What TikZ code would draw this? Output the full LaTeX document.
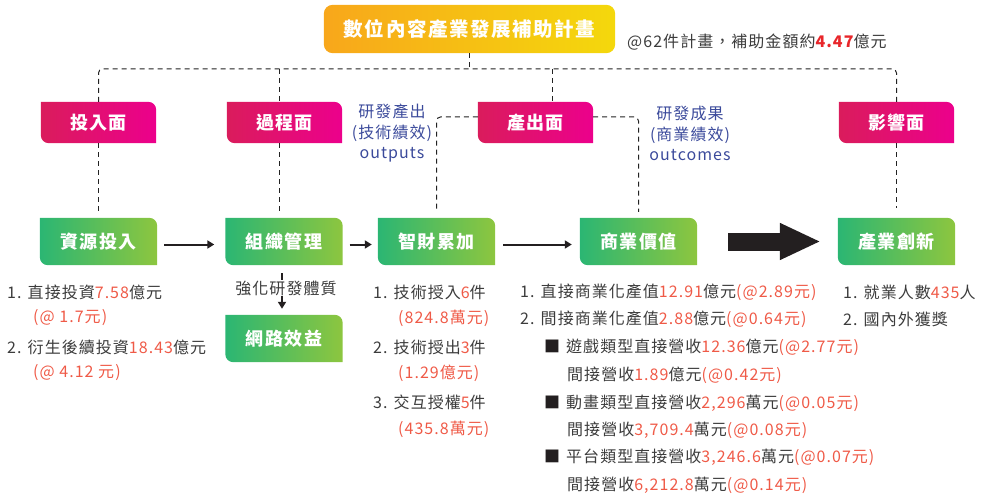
\documentclass[tikz,border=0pt]{standalone}
\usepackage{fontspec}
\setmainfont{Noto Sans CJK TC}
\newfontfamily\bodyfont{Noto Sans CJK TC}[LetterSpace=6.5]
\newfontfamily\headfont{Noto Sans CJK TC}[LetterSpace=8]
\usetikzlibrary{arrows.meta,backgrounds,calc}
\definecolor{txtc}{HTML}{3C3C3C}
\definecolor{redc}{HTML}{EF5A47}
\definecolor{redb}{HTML}{E8262A}
\definecolor{bluec}{HTML}{3B4A9B}
\definecolor{pinkL}{HTML}{DA1C5C}
\definecolor{pinkR}{HTML}{EC008C}
\definecolor{greenL}{HTML}{2BB673}
\definecolor{greenR}{HTML}{8DC63F}
\definecolor{orL}{HTML}{F8A71B}
\definecolor{orR}{HTML}{F4D80C}
\definecolor{linec}{HTML}{222222}
\definecolor{arrc}{HTML}{231F20}
\newcommand\rd[1]{\textcolor{redc}{#1}}
\newcommand\cornerbox[3]{\shade[left color=#2,right color=#3] (#1.north west) -- ($(#1.north east)+(-8pt,0)$) arc[start angle=90,end angle=0,radius=8pt] -- (#1.south east) -- ($(#1.south west)+(8pt,0)$) arc[start angle=270,end angle=180,radius=8pt] -- cycle;}
\tikzset{
  pbox/.style={minimum width=115pt, minimum height=41pt, inner sep=0pt, text=white, font=\headfont\bfseries\fontsize{18}{20}\selectfont},
  gbox/.style={minimum width=117pt, minimum height=47pt, inner sep=0pt, text=white, font=\headfont\bfseries\fontsize{18}{20}\selectfont},
  txt/.style={anchor=west, inner sep=0pt, text=txtc, font=\bodyfont\fontsize{16}{18}\selectfont},
  bl/.style={inner sep=0pt, align=center, text=bluec, font=\bodyfont\fontsize{16}{20.5}\selectfont},
  dl/.style={draw=linec, line width=1pt, dash pattern=on 5pt off 4pt},
  arr/.style={draw=arrc, line width=2pt, -{Triangle[length=7pt,width=8pt]}}
}
\begin{document}
\begin{tikzpicture}[x=1pt,y=1pt]
\useasboundingbox (0,0) rectangle (987,-497);
% title
\node[minimum width=291pt, minimum height=48pt, inner sep=0pt, text=white, font=\headfont\bfseries\fontsize{19.5}{22}\selectfont] (title) at (469.5,-29) {數位內容產業發展補助計畫};
\node[txt] (total) at (627,-42) {@62件計畫，補助金額約\textcolor{redb}{\bfseries 4.47}億元};
% pink boxes
\node[pbox] (tin) at (98.5,-122.5) {投入面};
\node[pbox] (tproc) at (284.5,-122.5) {過程面};
\node[pbox] (tout) at (535.5,-122.5) {產出面};
\node[pbox] (timp) at (896.5,-122.5) {影響面};
% green boxes
\node[gbox] (gres) at (98.5,-241.5) {資源投入};
\node[gbox] (gorg) at (284,-241.5) {組織管理};
\node[gbox] (gip) at (436.5,-241.5) {智財累加};
\node[gbox] (gbiz) at (638.5,-241.5) {商業價值};
\node[gbox] (ginn) at (896.5,-241.5) {產業創新};
\node[gbox] (gnet) at (284,-338.5) {網路效益};
\begin{pgfonlayer}{background}
\shade[left color=orL,right color=orR, rounded corners=9pt] (title.north west) rectangle (title.south east);
\cornerbox{tin}{pinkL}{pinkR}
\cornerbox{tproc}{pinkL}{pinkR}
\cornerbox{tout}{pinkL}{pinkR}
\cornerbox{timp}{pinkL}{pinkR}
\cornerbox{gres}{greenL}{greenR}
\cornerbox{gorg}{greenL}{greenR}
\cornerbox{gip}{greenL}{greenR}
\cornerbox{gbiz}{greenL}{greenR}
\cornerbox{ginn}{greenL}{greenR}
\cornerbox{gnet}{greenL}{greenR}
\end{pgfonlayer}
% dashed tree
\coordinate (bar) at (0,-69);
\coordinate (px) at (279,0);
\coordinate (ox) at (552,0);
\draw[dl, rounded corners=4pt] (tin.north) -- (tin.north |- bar) -- (timp.north |- bar) -- (timp.north);
\draw[dl] (title.south) -- (title.south |- bar);
\draw[dl] (px |- bar) -- (px |- tproc.north);
\draw[dl, shorten >=6pt] (px |- tproc.south) -- (px |- gorg.north);
\draw[dl] (ox |- bar) -- (ox |- tout.north);
\draw[dl, shorten >=5pt] (tin.south) -- (gres.north);
\draw[dl, shorten >=10pt] (timp.south) -- (ginn.north);
\draw[dl, rounded corners=4pt, shorten >=6pt] ([yshift=5.5pt]tout.west) -| (gip.north);
\draw[dl, rounded corners=4pt, shorten >=6pt] ([yshift=5.5pt]tout.east) -| (gbiz.north);
% blue labels
\node[bl] (lout) at (392,-133.5) {研發產出\\(技術績效)\\outputs};
\node[bl] (lcome) at (690,-133.5) {研發成果\\(商業績效)\\outcomes};
% arrows
\draw[arr, shorten <=7pt, shorten >=11pt] ([yshift=-3pt]gres.east) -- ([yshift=-3pt]gorg.west);
\draw[arr, shorten <=7pt, shorten >=6pt] ([yshift=-3pt]gorg.east) -- ([yshift=-3pt]gip.west);
\draw[arr, shorten <=8pt, shorten >=8pt] ([yshift=-3pt]gip.east) -- ([yshift=-3pt]gbiz.west);
\draw[draw=arrc, line width=18pt, -{Triangle[length=41pt,width=34pt]}, shorten <=31pt, shorten >=17pt] (gbiz.east) -- (ginn.west);
\draw[arr, line width=1.8pt, shorten <=8pt, shorten >=6pt] ([xshift=-2pt]gorg.south) -- ([xshift=-2pt]gnet.north);
\node[txt, anchor=center, fill=white, inner ysep=1pt] (strong) at (286,-288) {強化研發體質};
% column 1
\node[txt] (c1a) at (7,-292) {1. 直接投資\rd{7.58}億元};
\node[txt] (c1b) at (33,-318) {\rd{(@ 1.7元)}};
\node[txt] (c1c) at (7,-347) {2. 衍生後續投資\rd{18.43}億元};
\node[txt] (c1d) at (33,-373) {\rd{(@ 4.12 元)}};
% column 3
\node[txt] (c3a) at (373,-292) {1. 技術授入\rd{6}件};
\node[txt] (c3b) at (398,-318) {\rd{(824.8萬元)}};
\node[txt] (c3c) at (373,-347) {2. 技術授出\rd{3}件};
\node[txt] (c3d) at (398,-373) {\rd{(1.29億元)}};
\node[txt] (c3e) at (373,-402) {3. 交互授權\rd{5}件};
\node[txt] (c3f) at (398,-429) {\rd{(435.8萬元)}};
% column 4
\node[txt] (c4a) at (520,-292) {1. 直接商業化產值\rd{12.91}億元\rd{(@2.89元)}};
\node[txt] (c4b) at (520,-319) {2. 間接商業化產值\rd{2.88}億元\rd{(@0.64元)}};
\node[txt] (c4c) at (544,-347) {\textcolor{arrc}{■}\hspace{6pt}遊戲類型直接營收\rd{12.36}億元\rd{(@2.77元)}};
\node[txt] (c4d) at (567,-375) {間接營收\rd{1.89}億元\rd{(@0.42元)}};
\node[txt] (c4e) at (544,-403) {\textcolor{arrc}{■}\hspace{6pt}動畫類型直接營收\rd{2,296}萬元\rd{(@0.05元)}};
\node[txt] (c4f) at (567,-430) {間接營收\rd{3,709.4}萬元\rd{(@0.08元)}};
\node[txt] (c4g) at (544,-457) {\textcolor{arrc}{■}\hspace{6pt}平台類型直接營收\rd{3,246.6}萬元\rd{(@0.07元)}};
\node[txt] (c4h) at (567,-485) {間接營收\rd{6,212.8}萬元\rd{(@0.14元)}};
% column 5
\node[txt] (c5a) at (843,-292) {1. 就業人數\rd{435}人};
\node[txt] (c5b) at (843,-319) {2. 國內外獲獎};
\end{tikzpicture}
\end{document}
